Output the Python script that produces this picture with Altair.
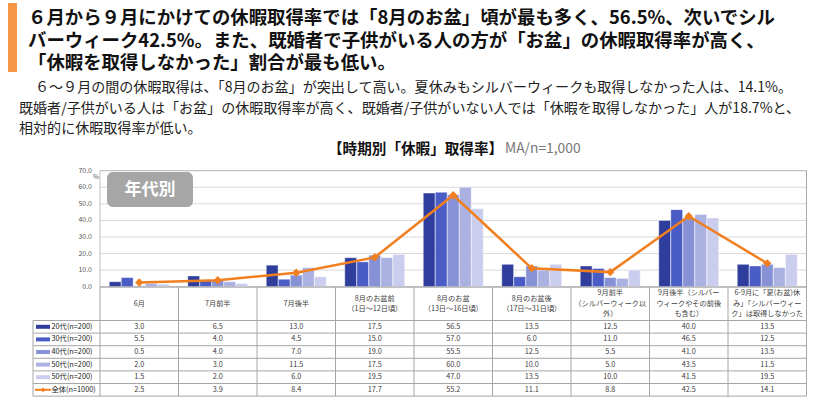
import altair as alt
import pandas as pd

JP = "Noto Sans CJK JP"

headline = [
    "６月から９月にかけての休暇取得率では「8月のお盆」頃が最も多く、56.5%、次いでシル",
    "バーウィーク42.5%。また、既婚者で子供がいる人の方が「お盆」の休暇取得率が高く、",
    "「休暇を取得しなかった」割合が最も低い。",
]
body_first = "６～９月の間の休暇取得は、「8月のお盆」が突出して高い。夏休みもシルバーウィークも取得しなかった人は、14.1%。"
body_rest = [
    "既婚者/子供がいる人は「お盆」の休暇取得率が高く、既婚者/子供がいない人では「休暇を取得しなかった」人が18.7%と、",
    "相対的に休暇取得率が低い。",
]
chart_title = "【時期別「休暇」取得率】"
chart_note = "MA/n=1,000"
badge = "年代別"

categories = ["c1", "c2", "c3", "c4", "c5", "c6", "c7", "c8", "c9"]
category_labels = [
    "6月",
    "7月前半",
    "7月後半",
    "8月のお盆前\n（1日～12日頃）",
    "8月のお盆\n（13日～16日頃）",
    "8月のお盆後\n（17日～31日頃）",
    "9月前半\n（シルバーウィーク以\n外）",
    "9月後半（シルバー\nウィークやその前後\nも含む）",
    "6-9月に「夏(お盆)休\nみ」「シルバーウィー\nク」は取得しなかった",
]

ages = ["20代", "30代", "40代", "50代", "60代"]
row_labels = ["20代(n=200)", "30代(n=200)", "40代(n=200)", "50代(n=200)", "50代(n=200)", "全体(n=1000)"]
age_colors = ["#2f3e9c", "#4a5cc6", "#8791d5", "#abb1e1", "#cacdee"]

v20 = [3.0, 6.5, 13.0, 17.5, 56.5, 13.5, 12.5, 40.0, 13.5]
v30 = [5.5, 4.0, 4.5, 15.0, 57.0, 6.0, 11.0, 46.5, 12.5]
v40 = [0.5, 4.0, 7.0, 19.0, 55.5, 12.5, 5.5, 41.0, 13.5]
v50 = [2.0, 3.0, 11.5, 17.5, 60.0, 10.0, 5.0, 43.5, 11.5]
v60 = [1.5, 2.0, 6.0, 19.5, 47.0, 13.5, 10.0, 41.5, 19.5]
total = [2.5, 3.9, 8.4, 17.7, 55.2, 11.1, 8.8, 42.5, 14.1]

y_ticks = [0, 10, 20, 30, 40, 50, 60, 70]

ORANGE = "#f17f1f"
GRID = "#d9d9d9"
LINE = "#a6a6a6"
TXT = "#404040"

age_series = [v20, v30, v40, v50, v60]
bar_df = pd.DataFrame(
    [{"cat": c, "series": a, "v": vals[i]} for a, vals in zip(ages, age_series) for i, c in enumerate(categories)]
)
line_df = pd.DataFrame({"cat": categories, "v": total})
row_keys = ages + ["全体"]
table_df = pd.DataFrame(
    [{"cat": c, "row": r, "v": vals[i]} for r, vals in zip(row_keys, age_series + [total]) for i, c in enumerate(categories)]
)
rows_df = pd.DataFrame({"row": row_keys, "label": row_labels})
age_rows_df = pd.DataFrame({"row": ages, "series": ages})
cat_df = pd.DataFrame({"cat": categories, "label": category_labels,
                       "n": [len(s.split("\n")) for s in category_labels]})
tick_df = pd.DataFrame({"v": y_ticks})
dummy = pd.DataFrame({"k": [0]})

xscale = alt.Scale(domain=categories, range=[100, 806.5], paddingInner=0, paddingOuter=0)
yscale = alt.Scale(domain=[0, 70], range=[286.7, 170.7], nice=False, zero=True)
rowscale = alt.Scale(type="band", domain=row_keys, range=[320.5, 396.1], paddingInner=0, paddingOuter=0)

X = lambda bp=0.5: alt.X("cat:N", scale=xscale, axis=None, sort=categories, bandPosition=bp)
Yv = alt.Y("v:Q", scale=yscale, axis=None)
Yr = lambda bp=0.5: alt.Y("row:N", scale=rowscale, axis=None, sort=row_keys, bandPosition=bp)

layers = []

# header
layers.append(alt.Chart(dummy).mark_rect(color="#f79646").encode(
    x=alt.value(8), x2=alt.value(17), y=alt.value(3), y2=alt.value(72)))
for line_text, ly in zip(headline, [18, 40.5, 63]):
    layers.append(alt.Chart(pd.DataFrame({"t": [line_text]})).mark_text(
        align="left", baseline="middle", font=JP, fontSize=18.4, fontWeight="bold", color="#111111").encode(
        x=alt.value(28), y=alt.value(ly), text="t:N"))
layers.append(alt.Chart(pd.DataFrame({"t": [body_first]})).mark_text(
    align="left", baseline="middle", font=JP, fontSize=14.05, color="#222222").encode(
    x=alt.value(35), y=alt.value(87.5), text="t:N"))
for line_text, ly in zip(body_rest, [108.5, 129]):
    layers.append(alt.Chart(pd.DataFrame({"t": [line_text]})).mark_text(
        align="left", baseline="middle", font=JP, fontSize=14.05, color="#222222").encode(
        x=alt.value(19), y=alt.value(ly), text="t:N"))
layers.append(alt.Chart(pd.DataFrame({"t": [chart_title]})).mark_text(
    align="left", baseline="middle", font=JP, fontSize=14.6, fontWeight="bold", color="#111111").encode(
    x=alt.value(328), y=alt.value(150), text="t:N"))
layers.append(alt.Chart(pd.DataFrame({"t": [chart_note]})).mark_text(
    align="left", baseline="middle", font=JP, fontSize=13.8, color="#777777").encode(
    x=alt.value(505), y=alt.value(148.5), text="t:N"))

# grid + frame
layers.append(alt.Chart(tick_df).mark_rule(color=GRID, strokeWidth=1).encode(
    y=Yv, x=alt.value(100), x2=alt.value(806.5)))
layers.append(alt.Chart(dummy).mark_rect(fill=None, stroke="#bfbfbf", strokeWidth=1).encode(
    x=alt.value(100), x2=alt.value(806.5), y=alt.value(170.7), y2=alt.value(287)))
layers.append(alt.Chart(tick_df).mark_text(
    align="right", baseline="middle", font=JP, fontSize=7, color="#595959").encode(
    y=Yv, x=alt.value(92), text=alt.Text("v:Q", format=".1f")))
layers.append(alt.Chart(pd.DataFrame({"t": ["%"]})).mark_text(
    align="center", baseline="middle", font=JP, fontSize=6.5, color="#595959").encode(
    x=alt.value(96), y=alt.value(177), text="t:N"))

# badge
layers.append(alt.Chart(dummy).mark_rect(color="#a6a6a6", cornerRadius=6).encode(
    x=alt.value(107), x2=alt.value(193), y=alt.value(172), y2=alt.value(207)))
layers.append(alt.Chart(pd.DataFrame({"t": [badge]})).mark_text(
    align="center", baseline="middle", font=JP, fontSize=17, fontWeight="bold", color="white").encode(
    x=alt.value(150), y=alt.value(189.5), text="t:N"))

# bars
layers.append(alt.Chart(bar_df).mark_bar(stroke="white", strokeWidth=0.4).encode(
    x=X(0),
    xOffset=alt.XOffset("series:N", scale=alt.Scale(domain=ages, paddingInner=0.02, paddingOuter=0.77), sort=ages),
    y=Yv,
    color=alt.Color("series:N", scale=alt.Scale(domain=ages, range=age_colors), legend=None),
))

# total line
layers.append(alt.Chart(line_df).mark_line(color=ORANGE, strokeWidth=2.5).encode(x=X(), y=Yv))
layers.append(alt.Chart(line_df).mark_point(shape="diamond", filled=True, size=70, color=ORANGE, opacity=1).encode(x=X(), y=Yv))

# table grid
layers.append(alt.Chart(cat_df).mark_rule(color=LINE, strokeWidth=1).encode(
    x=X(0), y=alt.value(287), y2=alt.value(396.1)))
layers.append(alt.Chart(dummy).mark_rule(color=LINE, strokeWidth=1).encode(
    x=alt.value(806.5), y=alt.value(170.7), y2=alt.value(396.1)))
layers.append(alt.Chart(dummy).mark_rule(color=LINE, strokeWidth=1).encode(
    x=alt.value(33), y=alt.value(320.5), y2=alt.value(396.1)))
layers.append(alt.Chart(dummy).mark_rule(color=LINE, strokeWidth=1).encode(
    x=alt.value(100), x2=alt.value(806.5), y=alt.value(287)))
layers.append(alt.Chart(rows_df).mark_rule(color=LINE, strokeWidth=1).encode(
    y=Yr(0), x=alt.value(33), x2=alt.value(806.5)))
layers.append(alt.Chart(rows_df.tail(1)).mark_rule(color=LINE, strokeWidth=1).encode(
    y=Yr(1), x=alt.value(33), x2=alt.value(806.5)))

# category labels (vertically centred in the 287-320 band by line count)
LH = 10.3
for n, ytop in [(1, 303.7), (2, 303.7 - LH / 2), (3, 303.7 - LH)]:
    layers.append(alt.Chart(cat_df).transform_filter(alt.datum.n == n).mark_text(
        align="center", baseline="middle", font=JP, fontSize=7.2, lineBreak="\n", lineHeight=LH, color=TXT).encode(
        x=X(), y=alt.value(ytop), text="label:N"))

# legend column
layers.append(alt.Chart(age_rows_df).mark_rule(strokeWidth=4).encode(
    y=Yr(), x=alt.value(36), x2=alt.value(50),
    color=alt.Color("series:N", scale=alt.Scale(domain=ages, range=age_colors), legend=None)))
layers.append(alt.Chart(rows_df.tail(1)).mark_rule(color=ORANGE, strokeWidth=2).encode(
    y=Yr(), x=alt.value(35), x2=alt.value(51)))
layers.append(alt.Chart(rows_df.tail(1)).mark_point(shape="diamond", filled=True, size=22, color=ORANGE, opacity=1).encode(
    y=Yr(), x=alt.value(43)))
layers.append(alt.Chart(rows_df).mark_text(
    align="left", baseline="middle", font=JP, fontSize=7.3, color="#222222").encode(
    y=Yr(), x=alt.value(51.5), text="label:N"))

# table values
layers.append(alt.Chart(table_df).mark_text(
    align="center", baseline="middle", font=JP, fontSize=7.3, color=TXT).encode(
    x=X(), y=Yr(), text=alt.Text("v:Q", format=".1f")))

chart = alt.layer(*layers).resolve_scale(y="independent").properties(
    width=815, height=404, autosize="none", padding=0, background="white"
).configure_view(stroke=None)

chart.save("out.html", embed_options={"renderer": "svg", "actions": False})
